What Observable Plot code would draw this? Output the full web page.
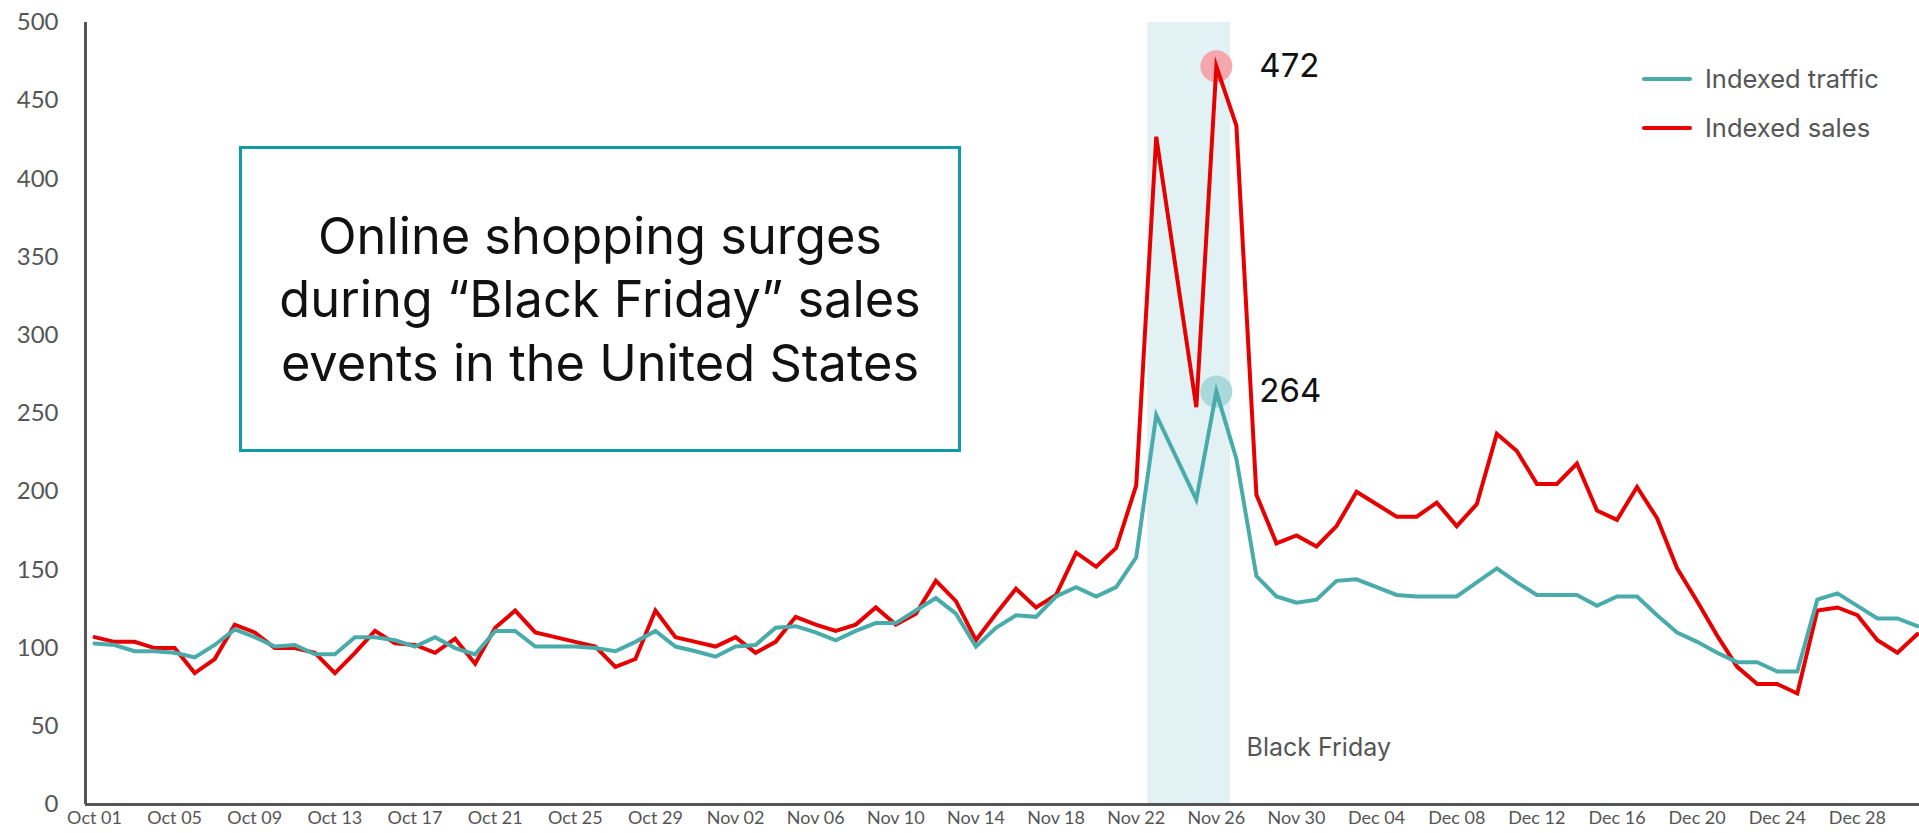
<!DOCTYPE html>
<html>
<head>
<meta charset="utf-8">
<script src="https://cdn.jsdelivr.net/npm/d3@7"></script>
<script src="https://cdn.jsdelivr.net/npm/@observablehq/plot@0.6"></script>
<style>
  html, body { margin: 0; padding: 0; background: #fff; }
  #wrap { position: relative; width: 1919px; height: 833px; font-family: Lato, "Open Sans", sans-serif; }
  #chart svg { display: block; }
  #titlebox {
    position: absolute; left: 239px; top: 146px; width: 716px; height: 300px;
    border: 3px solid #0e9ba5; display: flex; align-items: center; justify-content: center;
    text-align: center; font-family: Inter, Lato, sans-serif; font-size: 50.5px; line-height: 63.5px; color: #111;
  }
  #legend { position: absolute; left: 1642px; top: 54px; font-family: Inter, Lato, sans-serif; font-size: 25.5px; color: #555; }
  .item { display: flex; align-items: center; height: 49px; }
  .sw { width: 50px; height: 4px; border-radius: 2px; margin-right: 13px; }
</style>
</head>
<body>
<div id="wrap">
  <div id="chart"></div>
  <div id="titlebox"><div>Online shopping surges<br>during “Black Friday” sales<br>events in the United States</div></div>
  <div id="legend"></div>
</div>
<script>
// ---------- data ----------
const dates = [
  "2023-10-01","2023-10-02","2023-10-03","2023-10-04","2023-10-05","2023-10-06","2023-10-07","2023-10-08","2023-10-09","2023-10-10",
  "2023-10-11","2023-10-12","2023-10-13","2023-10-14","2023-10-15","2023-10-16","2023-10-17","2023-10-18","2023-10-19","2023-10-20",
  "2023-10-21","2023-10-22","2023-10-23","2023-10-24","2023-10-25","2023-10-26","2023-10-27","2023-10-28","2023-10-29","2023-10-30","2023-10-31",
  "2023-11-01","2023-11-02","2023-11-03","2023-11-04","2023-11-05","2023-11-06","2023-11-07","2023-11-08","2023-11-09","2023-11-10",
  "2023-11-11","2023-11-12","2023-11-13","2023-11-14","2023-11-15","2023-11-16","2023-11-17","2023-11-18","2023-11-19","2023-11-20",
  "2023-11-21","2023-11-22","2023-11-23","2023-11-25","2023-11-26","2023-11-27","2023-11-28","2023-11-29","2023-11-30",
  "2023-12-01","2023-12-02","2023-12-03","2023-12-04","2023-12-05","2023-12-06","2023-12-07","2023-12-08","2023-12-09","2023-12-10",
  "2023-12-11","2023-12-12","2023-12-13","2023-12-14","2023-12-15","2023-12-16","2023-12-17","2023-12-18","2023-12-19","2023-12-20",
  "2023-12-21","2023-12-22","2023-12-23","2023-12-24","2023-12-25","2023-12-26","2023-12-27","2023-12-28","2023-12-29","2023-12-30","2023-12-31"
];
const indexedSales = [
  107,104,104,100,100,84,93,115,110,100, 100,97,84,97,111,103,102,97,106,90, 113,124,110,107,104,101,88,93,124,107,104,
  101,107,97,104,120,115,111,115,126,115, 122,143,130,105,122,138,126,134,161,152, 164,204,427,
  254,472,434,198,167,172,
  165,178,200,192,184,184,193,178,192,237, 226,205,205,218,188,182,203,183,151,130, 108,88,77,77,71,124,126,121,105,97,109
];
const indexedTraffic = [
  103,102,98,98,97,94,102,112,107,101, 102,96,96,107,107,105,101,107,100,96, 111,111,101,101,101,100,98,104,111,101,98,
  94.5,101,102,113,114,110,105,111,116,116, 124,132,122,101,113,121,120,133,139,133, 139,158,249,
  195,264,221,146,133,129,
  131,143,144,139,134,133,133,133,142,151, 142,134,134,134,127,133,133,121,110,104, 97,91,91,85,85,131,135,127,119,119,114
];
const tickLabels = [
  "2023-10-01","2023-10-05","2023-10-09","2023-10-13","2023-10-17","2023-10-21","2023-10-25","2023-10-29",
  "2023-11-02","2023-11-06","2023-11-10","2023-11-14","2023-11-18","2023-11-22","2023-11-26","2023-11-30",
  "2023-12-04","2023-12-08","2023-12-12","2023-12-16","2023-12-20","2023-12-24","2023-12-28"
];
const yTicks = [0,50,100,150,200,250,300,350,400,450,500];
const seriesNames = ["Indexed traffic", "Indexed sales"];
const seriesColors = ["#4aabab", "#e60000"];
const highlightFills = ["#a9d9da", "#f6a7ad"];
const bandStart = "2023-11-22T13:40:00Z";
const bandEnd = "2023-11-26T17:00:00Z";
const bandLabel = "Black Friday";

// ---------- build ----------
const parse = s => new Date(s.length === 10 ? s + "T00:00:00Z" : s);
const sales = dates.map((d, i) => ({date: parse(d), value: indexedSales[i]}));
const traffic = dates.map((d, i) => ({date: parse(d), value: indexedTraffic[i]}));
const iS = d3.maxIndex(indexedSales), iT = d3.maxIndex(indexedTraffic);
const highlights = [
  {date: parse(dates[iT]), value: indexedTraffic[iT], fill: highlightFills[0]},
  {date: parse(dates[iS]), value: indexedSales[iS], fill: highlightFills[1]}
];
const xStart = new Date(Date.UTC(2023, 8, 30, 13, 12));
const xEnd = new Date(Date.UTC(2023, 11, 31, 2, 24));

const chart = Plot.plot({
  width: 1919, height: 833,
  marginLeft: 85, marginRight: 0, marginTop: 22, marginBottom: 29,
  style: {fontFamily: 'Lato, "Open Sans", sans-serif', background: "#fff"},
  x: {type: "utc", domain: [xStart, xEnd]},
  y: {domain: [0, 500]},
  marks: [
    Plot.rect([{s: parse(bandStart), e: parse(bandEnd)}], {x1: "s", x2: "e", y1: 0, y2: 500, fill: "#e2f2f4"}),
    Plot.axisX({ticks: tickLabels.map(parse), tickFormat: d3.utcFormat("%b %d"), tickSize: 0, tickPadding: 7, fontSize: 18, fill: "#555", label: null}),
    Plot.axisY({ticks: yTicks, tickSize: 0, tickPadding: 27, fontSize: 24, fill: "#555", label: null}),
    Plot.ruleY([0], {stroke: "#555", strokeWidth: 3}),
    Plot.ruleX([xStart], {y1: 0, y2: 500, stroke: "#555", strokeWidth: 3}),
    Plot.dot(highlights, {x: "date", y: "value", r: 16, fill: "fill"}),
    Plot.line(sales, {x: "date", y: "value", stroke: seriesColors[1], strokeWidth: 4, strokeLinejoin: "miter", strokeMiterlimit: 6}),
    Plot.line(traffic, {x: "date", y: "value", stroke: seriesColors[0], strokeWidth: 4, strokeLinejoin: "miter", strokeMiterlimit: 6}),
    Plot.text(highlights, {x: "date", y: "value", text: d => String(d.value), dx: 43, textAnchor: "start", fontSize: 33, fontFamily: "Inter, Lato, sans-serif", fill: "#111"}),
    Plot.text([bandLabel], {x: parse(bandEnd), y: 36, text: d => d, dx: 16, textAnchor: "start", fontSize: 25, fontFamily: "Inter, Lato, sans-serif", fill: "#555"})
  ]
});
document.getElementById("chart").appendChild(chart);

const legend = document.getElementById("legend");
seriesNames.forEach((name, i) => {
  const row = document.createElement("div");
  row.className = "item";
  row.innerHTML = `<div class="sw" style="background:${seriesColors[i]}"></div><span>${name}</span>`;
  legend.appendChild(row);
});
</script>
</body>
</html>
